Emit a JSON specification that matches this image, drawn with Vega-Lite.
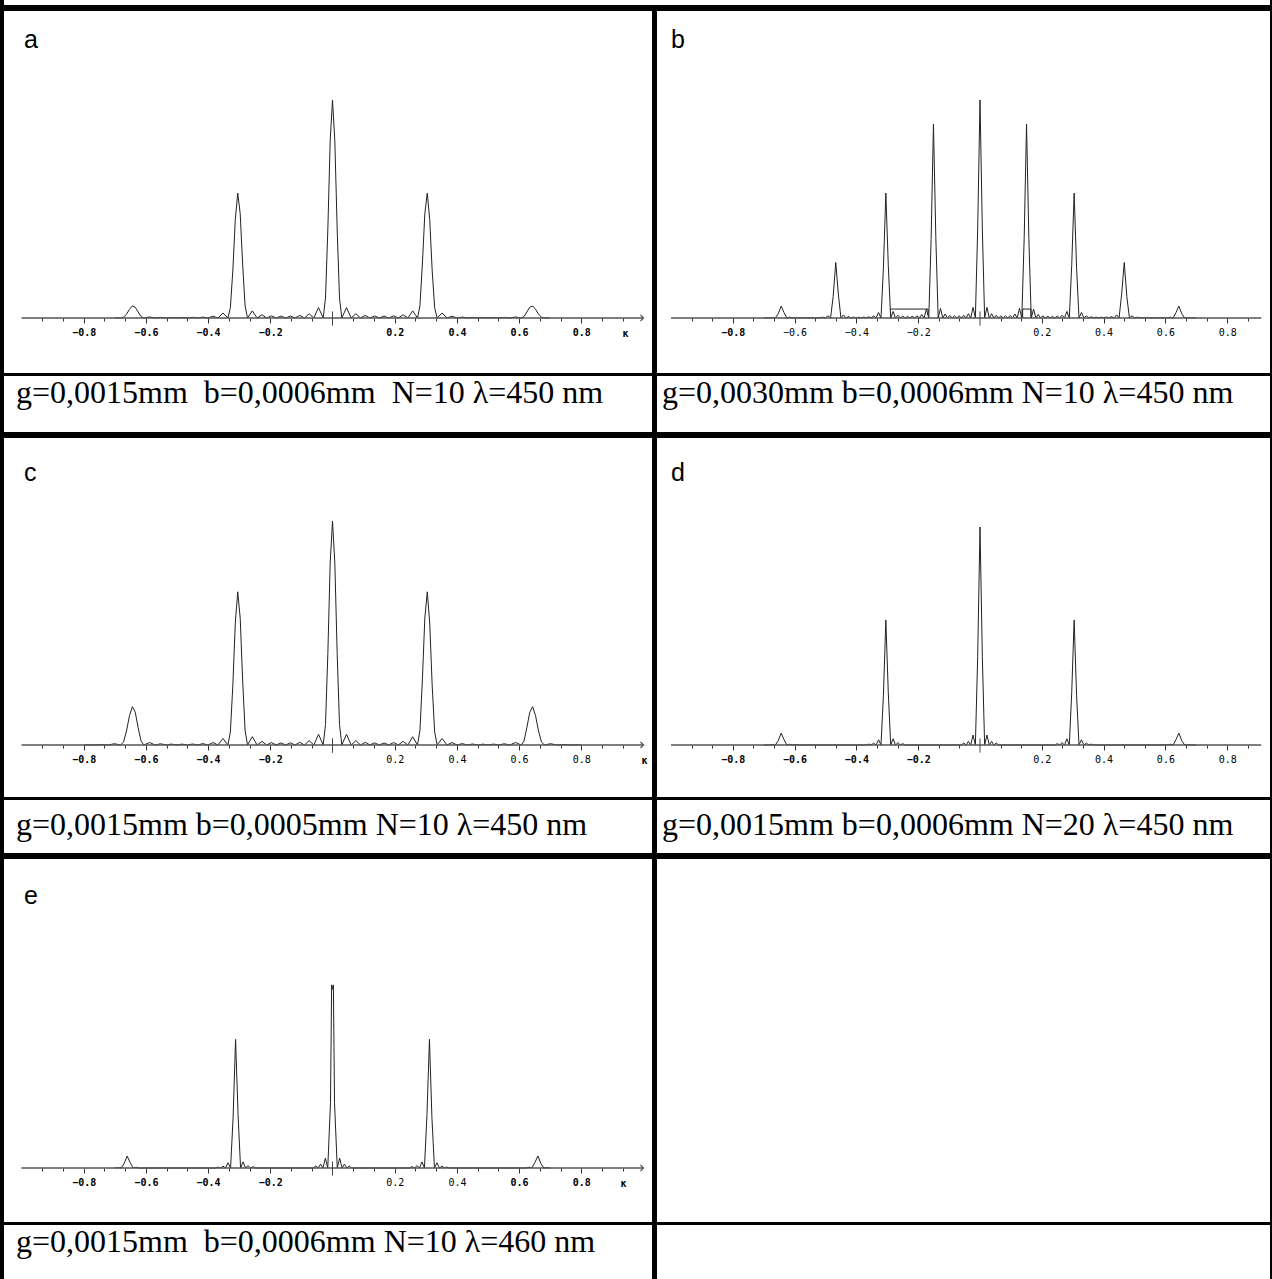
{
"$schema": "https://vega.github.io/schema/vega-lite/v6.json",
"background": "black",
"padding": {"left": 4, "top": 0, "right": 2, "bottom": 0},
"config": {"view": {"fill": "white", "stroke": null}, "concat": {"spacing": 0}},
"datasets": {
"a": [
{"angle":-0.7,"intensity":0.001},{"angle":-0.6816,"intensity":0},{"angle":-0.672,"intensity":0.0035},{"angle":-0.6624,"intensity":0.0177},{"angle":-0.6529,"intensity":0.0396},{"angle":-0.6435,"intensity":0.0547},{"angle":-0.6343,"intensity":0.0495},{"angle":-0.625,"intensity":0.0277},{"angle":-0.6158,"intensity":0.0069},{"angle":-0.6066,"intensity":0},{"angle":-0.5884,"intensity":0.0048},{"angle":-0.5704,"intensity":0},{"angle":-0.5528,"intensity":0.0027},{"angle":-0.5352,"intensity":0},{"angle":-0.5178,"intensity":0.0023},{"angle":-0.5007,"intensity":0},{"angle":-0.4836,"intensity":0.0023},{"angle":-0.4668,"intensity":0},{"angle":-0.45,"intensity":0.0029},{"angle":-0.4334,"intensity":0},{"angle":-0.417,"intensity":0.0043},{"angle":-0.4006,"intensity":0},{"angle":-0.3844,"intensity":0.0081},{"angle":-0.3683,"intensity":0},{"angle":-0.3522,"intensity":0.0229},{"angle":-0.3363,"intensity":0},{"angle":-0.3284,"intensity":0.0479},{"angle":-0.3204,"intensity":0.2202},{"angle":-0.3126,"intensity":0.4513},{"angle":-0.3047,"intensity":0.573},{"angle":-0.2968,"intensity":0.4788},{"angle":-0.289,"intensity":0.2479},{"angle":-0.2812,"intensity":0.0572},{"angle":-0.2734,"intensity":0},{"angle":-0.2578,"intensity":0.0326},{"angle":-0.2424,"intensity":0},{"angle":-0.2269,"intensity":0.0147},{"angle":-0.2116,"intensity":0},{"angle":-0.1963,"intensity":0.01},{"angle":-0.181,"intensity":0},{"angle":-0.1658,"intensity":0.0088},{"angle":-0.1506,"intensity":0},{"angle":-0.1354,"intensity":0.0092},{"angle":-0.1203,"intensity":0},{"angle":-0.1052,"intensity":0.0118},{"angle":-0.0901,"intensity":0},{"angle":-0.0751,"intensity":0.0194},{"angle":-0.06,"intensity":0},{"angle":-0.045,"intensity":0.0479},{"angle":-0.03,"intensity":0},{"angle":-0.0225,"intensity":0.0915},{"angle":-0.015,"intensity":0.408},{"angle":-0.0075,"intensity":0.812},
{"angle":0,"intensity":1},
{"angle":0.0075,"intensity":0.812},{"angle":0.015,"intensity":0.408},{"angle":0.0225,"intensity":0.0915},{"angle":0.03,"intensity":0},{"angle":0.045,"intensity":0.0479},{"angle":0.06,"intensity":0},{"angle":0.0751,"intensity":0.0194},{"angle":0.0901,"intensity":0},{"angle":0.1052,"intensity":0.0118},{"angle":0.1203,"intensity":0},{"angle":0.1354,"intensity":0.0092},{"angle":0.1506,"intensity":0},{"angle":0.1658,"intensity":0.0088},{"angle":0.181,"intensity":0},{"angle":0.1963,"intensity":0.01},{"angle":0.2116,"intensity":0},{"angle":0.2269,"intensity":0.0147},{"angle":0.2424,"intensity":0},{"angle":0.2578,"intensity":0.0326},{"angle":0.2734,"intensity":0},{"angle":0.2812,"intensity":0.0572},{"angle":0.289,"intensity":0.2479},{"angle":0.2968,"intensity":0.4788},{"angle":0.3047,"intensity":0.573},{"angle":0.3126,"intensity":0.4513},{"angle":0.3204,"intensity":0.2202},{"angle":0.3284,"intensity":0.0479},{"angle":0.3363,"intensity":0},{"angle":0.3522,"intensity":0.0229},{"angle":0.3683,"intensity":0},{"angle":0.3844,"intensity":0.0081},{"angle":0.4006,"intensity":0},{"angle":0.417,"intensity":0.0043},{"angle":0.4334,"intensity":0},{"angle":0.45,"intensity":0.0029},{"angle":0.4668,"intensity":0},{"angle":0.4836,"intensity":0.0023},{"angle":0.5007,"intensity":0},{"angle":0.5178,"intensity":0.0023},{"angle":0.5352,"intensity":0},{"angle":0.5528,"intensity":0.0027},{"angle":0.5704,"intensity":0},{"angle":0.5884,"intensity":0.0048},{"angle":0.6066,"intensity":0},{"angle":0.6158,"intensity":0.0069},{"angle":0.625,"intensity":0.0277},{"angle":0.6343,"intensity":0.0495},{"angle":0.6435,"intensity":0.0547},{"angle":0.6529,"intensity":0.0396},{"angle":0.6624,"intensity":0.0177},{"angle":0.672,"intensity":0.0035},{"angle":0.6816,"intensity":0},{"angle":0.7,"intensity":0.001}
],
"b": [
{"angle":-0.7,"intensity":0},{"angle":-0.6913,"intensity":0.0006},{"angle":-0.6816,"intensity":0},{"angle":-0.672,"intensity":0.0018},{"angle":-0.6624,"intensity":0},{"angle":-0.6529,"intensity":0.0199},{"angle":-0.6435,"intensity":0.0547},{"angle":-0.6343,"intensity":0.0249},{"angle":-0.625,"intensity":0},{"angle":-0.6158,"intensity":0.0036},{"angle":-0.6066,"intensity":0},{"angle":-0.5975,"intensity":0.0018},{"angle":-0.5884,"intensity":0},{"angle":-0.5793,"intensity":0.0013},{"angle":-0.5704,"intensity":0},{"angle":-0.5616,"intensity":0.0013},{"angle":-0.5528,"intensity":0},{"angle":-0.5439,"intensity":0.0015},{"angle":-0.5352,"intensity":0},{"angle":-0.5265,"intensity":0.0021},{"angle":-0.5178,"intensity":0},{"angle":-0.5092,"intensity":0.0038},{"angle":-0.5007,"intensity":0},{"angle":-0.4921,"intensity":0.0104},{"angle":-0.4836,"intensity":0},{"angle":-0.4752,"intensity":0.0985},{"angle":-0.4668,"intensity":0.2546},{"angle":-0.4584,"intensity":0.1097},{"angle":-0.45,"intensity":0},{"angle":-0.4417,"intensity":0.0144},{"angle":-0.4334,"intensity":0},{"angle":-0.4252,"intensity":0.0065},{"angle":-0.417,"intensity":0},{"angle":-0.4088,"intensity":0.0045},{"angle":-0.4006,"intensity":0},{"angle":-0.3925,"intensity":0.004},{"angle":-0.3844,"intensity":0},{"angle":-0.3763,"intensity":0.0043},{"angle":-0.3683,"intensity":0},{"angle":-0.3602,"intensity":0.0057},{"angle":-0.3522,"intensity":0},{"angle":-0.3443,"intensity":0.0098},{"angle":-0.3363,"intensity":0},{"angle":-0.3284,"intensity":0.0253},{"angle":-0.3204,"intensity":0},{"angle":-0.3126,"intensity":0.2271},{"angle":-0.3047,"intensity":0.573},{"angle":-0.2968,"intensity":0.241},{"angle":-0.289,"intensity":0},{"angle":-0.2812,"intensity":0.0302},{"angle":-0.2734,"intensity":0},{"angle":-0.2656,"intensity":0.0131},{"angle":-0.2578,"intensity":0},{"angle":-0.2501,"intensity":0.0087},{"angle":-0.2424,"intensity":0},{"angle":-0.2346,"intensity":0.0074},{"angle":-0.2269,"intensity":0},{"angle":-0.2193,"intensity":0.0077},{"angle":-0.2116,"intensity":0},{"angle":-0.2039,"intensity":0.0099},{"angle":-0.1963,"intensity":0},{"angle":-0.1886,"intensity":0.0162},{"angle":-0.181,"intensity":0},{"angle":-0.1734,"intensity":0.0406},{"angle":-0.1658,"intensity":0},{"angle":-0.1582,"intensity":0.36},{"angle":-0.1506,"intensity":0.89},{"angle":-0.143,"intensity":0.37},{"angle":-0.1354,"intensity":0},{"angle":-0.1278,"intensity":0.0441},{"angle":-0.1203,"intensity":0},{"angle":-0.1127,"intensity":0.0186},{"angle":-0.1052,"intensity":0},{"angle":-0.0977,"intensity":0.0119},{"angle":-0.0901,"intensity":0},{"angle":-0.0826,"intensity":0.0099},{"angle":-0.0751,"intensity":0},{"angle":-0.0676,"intensity":0.01},{"angle":-0.06,"intensity":0},{"angle":-0.0525,"intensity":0.0124},{"angle":-0.045,"intensity":0},{"angle":-0.0375,"intensity":0.0198},{"angle":-0.03,"intensity":0},{"angle":-0.0225,"intensity":0.0484},{"angle":-0.015,"intensity":0},{"angle":-0.0075,"intensity":0.4085},
{"angle":0,"intensity":1},
{"angle":0.0075,"intensity":0.4085},{"angle":0.015,"intensity":0},{"angle":0.0225,"intensity":0.0484},{"angle":0.03,"intensity":0},{"angle":0.0375,"intensity":0.0198},{"angle":0.045,"intensity":0},{"angle":0.0525,"intensity":0.0124},{"angle":0.06,"intensity":0},{"angle":0.0676,"intensity":0.01},{"angle":0.0751,"intensity":0},{"angle":0.0826,"intensity":0.0099},{"angle":0.0901,"intensity":0},{"angle":0.0977,"intensity":0.0119},{"angle":0.1052,"intensity":0},{"angle":0.1127,"intensity":0.0186},{"angle":0.1203,"intensity":0},{"angle":0.1278,"intensity":0.0441},{"angle":0.1354,"intensity":0},{"angle":0.143,"intensity":0.37},{"angle":0.1506,"intensity":0.89},{"angle":0.1582,"intensity":0.36},{"angle":0.1658,"intensity":0},{"angle":0.1734,"intensity":0.0406},{"angle":0.181,"intensity":0},{"angle":0.1886,"intensity":0.0162},{"angle":0.1963,"intensity":0},{"angle":0.2039,"intensity":0.0099},{"angle":0.2116,"intensity":0},{"angle":0.2193,"intensity":0.0077},{"angle":0.2269,"intensity":0},{"angle":0.2346,"intensity":0.0074},{"angle":0.2424,"intensity":0},{"angle":0.2501,"intensity":0.0087},{"angle":0.2578,"intensity":0},{"angle":0.2656,"intensity":0.0131},{"angle":0.2734,"intensity":0},{"angle":0.2812,"intensity":0.0302},{"angle":0.289,"intensity":0},{"angle":0.2968,"intensity":0.241},{"angle":0.3047,"intensity":0.573},{"angle":0.3126,"intensity":0.2271},{"angle":0.3204,"intensity":0},{"angle":0.3284,"intensity":0.0253},{"angle":0.3363,"intensity":0},{"angle":0.3443,"intensity":0.0098},{"angle":0.3522,"intensity":0},{"angle":0.3602,"intensity":0.0057},{"angle":0.3683,"intensity":0},{"angle":0.3763,"intensity":0.0043},{"angle":0.3844,"intensity":0},{"angle":0.3925,"intensity":0.004},{"angle":0.4006,"intensity":0},{"angle":0.4088,"intensity":0.0045},{"angle":0.417,"intensity":0},{"angle":0.4252,"intensity":0.0065},{"angle":0.4334,"intensity":0},{"angle":0.4417,"intensity":0.0144},{"angle":0.45,"intensity":0},{"angle":0.4584,"intensity":0.1097},{"angle":0.4668,"intensity":0.2546},{"angle":0.4752,"intensity":0.0985},{"angle":0.4836,"intensity":0},{"angle":0.4921,"intensity":0.0104},{"angle":0.5007,"intensity":0},{"angle":0.5092,"intensity":0.0038},{"angle":0.5178,"intensity":0},{"angle":0.5265,"intensity":0.0021},{"angle":0.5352,"intensity":0},{"angle":0.5439,"intensity":0.0015},{"angle":0.5528,"intensity":0},{"angle":0.5616,"intensity":0.0013},{"angle":0.5704,"intensity":0},{"angle":0.5793,"intensity":0.0013},{"angle":0.5884,"intensity":0},{"angle":0.5975,"intensity":0.0018},{"angle":0.6066,"intensity":0},{"angle":0.6158,"intensity":0.0036},{"angle":0.625,"intensity":0},{"angle":0.6343,"intensity":0.0249},{"angle":0.6435,"intensity":0.0547},{"angle":0.6529,"intensity":0.0199},{"angle":0.6624,"intensity":0},{"angle":0.672,"intensity":0.0018},{"angle":0.6816,"intensity":0},{"angle":0.6913,"intensity":0.0006},{"angle":0.7,"intensity":0}
],
"b_artifacts": [
{"segment":1,"step":1,"angle":-0.2915,"intensity":0.041},{"segment":1,"step":2,"angle":-0.168,"intensity":0.041},{"segment":1,"step":3,"angle":-0.168,"intensity":0.015},
{"segment":2,"step":1,"angle":0.138,"intensity":0},{"segment":2,"step":2,"angle":0.138,"intensity":0.041},{"segment":2,"step":3,"angle":0.165,"intensity":0.041},{"segment":2,"step":4,"angle":0.165,"intensity":0}
],
"c": [
{"angle":-0.8,"intensity":0},{"angle":-0.7824,"intensity":0.0008},{"angle":-0.7615,"intensity":0},{"angle":-0.741,"intensity":0.0018},{"angle":-0.7208,"intensity":0},{"angle":-0.7011,"intensity":0.0058},{"angle":-0.6816,"intensity":0},{"angle":-0.672,"intensity":0.0132},{"angle":-0.6624,"intensity":0.0624},{"angle":-0.6529,"intensity":0.1313},{"angle":-0.6435,"intensity":0.171},{"angle":-0.6343,"intensity":0.1466},{"angle":-0.625,"intensity":0.0778},{"angle":-0.6158,"intensity":0.0184},{"angle":-0.6066,"intensity":0},{"angle":-0.5884,"intensity":0.0113},{"angle":-0.5704,"intensity":0},{"angle":-0.5528,"intensity":0.0056},{"angle":-0.5352,"intensity":0},{"angle":-0.5178,"intensity":0.0041},{"angle":-0.5007,"intensity":0},{"angle":-0.4836,"intensity":0.0039},{"angle":-0.4668,"intensity":0},{"angle":-0.45,"intensity":0.0045},{"angle":-0.4334,"intensity":0},{"angle":-0.417,"intensity":0.0062},{"angle":-0.4006,"intensity":0},{"angle":-0.3844,"intensity":0.0109},{"angle":-0.3683,"intensity":0},{"angle":-0.3522,"intensity":0.0291},{"angle":-0.3363,"intensity":0},{"angle":-0.3284,"intensity":0.059},{"angle":-0.3204,"intensity":0.2683},{"angle":-0.3126,"intensity":0.5443},{"angle":-0.3047,"intensity":0.6839},{"angle":-0.2968,"intensity":0.5663},{"angle":-0.289,"intensity":0.2904},{"angle":-0.2812,"intensity":0.0664},{"angle":-0.2734,"intensity":0},{"angle":-0.2578,"intensity":0.037},{"angle":-0.2424,"intensity":0},{"angle":-0.2269,"intensity":0.0162},{"angle":-0.2116,"intensity":0},{"angle":-0.1963,"intensity":0.0108},{"angle":-0.181,"intensity":0},{"angle":-0.1658,"intensity":0.0092},{"angle":-0.1506,"intensity":0},{"angle":-0.1354,"intensity":0.0096},{"angle":-0.1203,"intensity":0},{"angle":-0.1052,"intensity":0.012},{"angle":-0.0901,"intensity":0},{"angle":-0.0751,"intensity":0.0195},{"angle":-0.06,"intensity":0},{"angle":-0.045,"intensity":0.0481},{"angle":-0.03,"intensity":0},{"angle":-0.0225,"intensity":0.0916},{"angle":-0.015,"intensity":0.408},{"angle":-0.0075,"intensity":0.812},
{"angle":0,"intensity":1},
{"angle":0.0075,"intensity":0.812},{"angle":0.015,"intensity":0.408},{"angle":0.0225,"intensity":0.0916},{"angle":0.03,"intensity":0},{"angle":0.045,"intensity":0.0481},{"angle":0.06,"intensity":0},{"angle":0.0751,"intensity":0.0195},{"angle":0.0901,"intensity":0},{"angle":0.1052,"intensity":0.012},{"angle":0.1203,"intensity":0},{"angle":0.1354,"intensity":0.0096},{"angle":0.1506,"intensity":0},{"angle":0.1658,"intensity":0.0092},{"angle":0.181,"intensity":0},{"angle":0.1963,"intensity":0.0108},{"angle":0.2116,"intensity":0},{"angle":0.2269,"intensity":0.0162},{"angle":0.2424,"intensity":0},{"angle":0.2578,"intensity":0.037},{"angle":0.2734,"intensity":0},{"angle":0.2812,"intensity":0.0664},{"angle":0.289,"intensity":0.2904},{"angle":0.2968,"intensity":0.5663},{"angle":0.3047,"intensity":0.6839},{"angle":0.3126,"intensity":0.5443},{"angle":0.3204,"intensity":0.2683},{"angle":0.3284,"intensity":0.059},{"angle":0.3363,"intensity":0},{"angle":0.3522,"intensity":0.0291},{"angle":0.3683,"intensity":0},{"angle":0.3844,"intensity":0.0109},{"angle":0.4006,"intensity":0},{"angle":0.417,"intensity":0.0062},{"angle":0.4334,"intensity":0},{"angle":0.45,"intensity":0.0045},{"angle":0.4668,"intensity":0},{"angle":0.4836,"intensity":0.0039},{"angle":0.5007,"intensity":0},{"angle":0.5178,"intensity":0.0041},{"angle":0.5352,"intensity":0},{"angle":0.5528,"intensity":0.0056},{"angle":0.5704,"intensity":0},{"angle":0.5884,"intensity":0.0113},{"angle":0.6066,"intensity":0},{"angle":0.6158,"intensity":0.0184},{"angle":0.625,"intensity":0.0778},{"angle":0.6343,"intensity":0.1466},{"angle":0.6435,"intensity":0.171},{"angle":0.6529,"intensity":0.1313},{"angle":0.6624,"intensity":0.0624},{"angle":0.672,"intensity":0.0132},{"angle":0.6816,"intensity":0},{"angle":0.7011,"intensity":0.0058},{"angle":0.7208,"intensity":0},{"angle":0.741,"intensity":0.0018},{"angle":0.7615,"intensity":0},{"angle":0.7824,"intensity":0.0008},{"angle":0.8,"intensity":0}
],
"d": [
{"angle":-0.7,"intensity":0},{"angle":-0.6816,"intensity":0},{"angle":-0.672,"intensity":0.0017},{"angle":-0.6624,"intensity":0},{"angle":-0.6529,"intensity":0.0198},{"angle":-0.6435,"intensity":0.0547},{"angle":-0.6343,"intensity":0.0248},{"angle":-0.625,"intensity":0},{"angle":-0.6158,"intensity":0.0034},{"angle":-0.6066,"intensity":0},{"angle":-0.5975,"intensity":0.0015},{"angle":-0.5884,"intensity":0},{"angle":-0.3683,"intensity":0},{"angle":-0.3602,"intensity":0.0042},{"angle":-0.3522,"intensity":0},{"angle":-0.3443,"intensity":0.0083},{"angle":-0.3363,"intensity":0},{"angle":-0.3284,"intensity":0.024},{"angle":-0.3204,"intensity":0},{"angle":-0.3126,"intensity":0.2257},{"angle":-0.3047,"intensity":0.573},{"angle":-0.2968,"intensity":0.2395},{"angle":-0.289,"intensity":0},{"angle":-0.2812,"intensity":0.0286},{"angle":-0.2734,"intensity":0},{"angle":-0.2656,"intensity":0.0112},{"angle":-0.2578,"intensity":0},{"angle":-0.2501,"intensity":0.0063},{"angle":-0.2424,"intensity":0},{"angle":-0.06,"intensity":0},{"angle":-0.0525,"intensity":0.009},{"angle":-0.045,"intensity":0},{"angle":-0.0375,"intensity":0.017},{"angle":-0.03,"intensity":0},{"angle":-0.0225,"intensity":0.0458},{"angle":-0.015,"intensity":0},{"angle":-0.0075,"intensity":0.406},
{"angle":0,"intensity":1},
{"angle":0.0075,"intensity":0.406},{"angle":0.015,"intensity":0},{"angle":0.0225,"intensity":0.0458},{"angle":0.03,"intensity":0},{"angle":0.0375,"intensity":0.017},{"angle":0.045,"intensity":0},{"angle":0.0525,"intensity":0.009},{"angle":0.06,"intensity":0},{"angle":0.2424,"intensity":0},{"angle":0.2501,"intensity":0.0063},{"angle":0.2578,"intensity":0},{"angle":0.2656,"intensity":0.0112},{"angle":0.2734,"intensity":0},{"angle":0.2812,"intensity":0.0286},{"angle":0.289,"intensity":0},{"angle":0.2968,"intensity":0.2395},{"angle":0.3047,"intensity":0.573},{"angle":0.3126,"intensity":0.2257},{"angle":0.3204,"intensity":0},{"angle":0.3284,"intensity":0.024},{"angle":0.3363,"intensity":0},{"angle":0.3443,"intensity":0.0083},{"angle":0.3522,"intensity":0},{"angle":0.3602,"intensity":0.0042},{"angle":0.3683,"intensity":0},{"angle":0.5884,"intensity":0},{"angle":0.5975,"intensity":0.0015},{"angle":0.6066,"intensity":0},{"angle":0.6158,"intensity":0.0034},{"angle":0.625,"intensity":0},{"angle":0.6343,"intensity":0.0248},{"angle":0.6435,"intensity":0.0547},{"angle":0.6529,"intensity":0.0198},{"angle":0.6624,"intensity":0},{"angle":0.672,"intensity":0.0017},{"angle":0.6816,"intensity":0},{"angle":0.7,"intensity":0}
],
"e": [
{"angle":-0.7,"intensity":0},{"angle":-0.6895,"intensity":0.0017},{"angle":-0.6798,"intensity":0},{"angle":-0.6701,"intensity":0.02},{"angle":-0.6604,"intensity":0.055},{"angle":-0.6507,"intensity":0.025},{"angle":-0.641,"intensity":0},{"angle":-0.6313,"intensity":0.0034},{"angle":-0.6216,"intensity":0},{"angle":-0.376,"intensity":0},{"angle":-0.368,"intensity":0.0042},{"angle":-0.3599,"intensity":0},{"angle":-0.3519,"intensity":0.0083},{"angle":-0.3439,"intensity":0},{"angle":-0.3358,"intensity":0.024},{"angle":-0.3278,"intensity":0},{"angle":-0.3197,"intensity":0.23},{"angle":-0.3117,"intensity":0.59},{"angle":-0.3037,"intensity":0.245},{"angle":-0.2956,"intensity":0},{"angle":-0.2876,"intensity":0.028},{"angle":-0.2795,"intensity":0},{"angle":-0.2715,"intensity":0.011},{"angle":-0.2635,"intensity":0},{"angle":-0.2554,"intensity":0.0063},{"angle":-0.2474,"intensity":0},{"angle":-0.0613,"intensity":0},{"angle":-0.0537,"intensity":0.009},{"angle":-0.046,"intensity":0},{"angle":-0.0383,"intensity":0.018},{"angle":-0.0307,"intensity":0},{"angle":-0.023,"intensity":0.045},{"angle":-0.0153,"intensity":0},{"angle":-0.0065,"intensity":0.3},{"angle":-0.0028,"intensity":0.84},
{"angle":0,"intensity":0.82},
{"angle":0.0028,"intensity":0.84},{"angle":0.0065,"intensity":0.3},{"angle":0.0153,"intensity":0},{"angle":0.023,"intensity":0.045},{"angle":0.0307,"intensity":0},{"angle":0.0383,"intensity":0.018},{"angle":0.046,"intensity":0},{"angle":0.0537,"intensity":0.009},{"angle":0.0613,"intensity":0},{"angle":0.2474,"intensity":0},{"angle":0.2554,"intensity":0.0063},{"angle":0.2635,"intensity":0},{"angle":0.2715,"intensity":0.011},{"angle":0.2795,"intensity":0},{"angle":0.2876,"intensity":0.028},{"angle":0.2956,"intensity":0},{"angle":0.3037,"intensity":0.245},{"angle":0.3117,"intensity":0.59},{"angle":0.3197,"intensity":0.23},{"angle":0.3278,"intensity":0},{"angle":0.3358,"intensity":0.024},{"angle":0.3439,"intensity":0},{"angle":0.3519,"intensity":0.0083},{"angle":0.3599,"intensity":0},{"angle":0.368,"intensity":0.0042},{"angle":0.376,"intensity":0},{"angle":0.6216,"intensity":0},{"angle":0.6313,"intensity":0.0034},{"angle":0.641,"intensity":0},{"angle":0.6507,"intensity":0.025},{"angle":0.6604,"intensity":0.055},{"angle":0.6701,"intensity":0.02},{"angle":0.6798,"intensity":0},{"angle":0.6895,"intensity":0.0017},{"angle":0.7,"intensity":0}
]
},
"spacing": 6,
"vconcat": [
{"width": 1266, "height": 5, "data": {"values": [{}]}, "mark": {"type": "point", "opacity": 0, "size": 0},
 "encoding": {"x": {"datum": 0.5, "type": "quantitative", "scale": {"domain": [0, 1]}, "axis": null}, "y": {"datum": 0.5, "type": "quantitative", "scale": {"domain": [0, 1]}, "axis": null}}},
{"spacing": 5, "hconcat": [
 {"spacing": 3, "vconcat": [
  {"width": 648, "height": 362, "data": {"values": [{}]},
   "resolve": {"axis": {"x": "independent"}},
   "layer": [
    {"data": {"name": "a"}, "mark": {"type": "line", "color": "#222", "strokeWidth": 1},
     "encoding": {
      "x": {"field": "angle", "type": "quantitative", "scale": {"domain": [-1.0563, 1.0273], "nice": false, "zero": false},
        "axis": {"orient": "bottom", "values": [-0.9333,-0.8667,-0.7333,-0.6667,-0.5333,-0.4667,-0.3333,-0.2667,-0.1333,-0.0667,0.0667,0.1333,0.2667,0.3333,0.4667,0.5333,0.6667,0.7333,0.8667,0.9333],
          "domain": false, "grid": false, "offset": -55, "tickSize": 3, "tickColor": "#333", "labels": false, "title": null}},
      "y": {"field": "intensity", "type": "quantitative", "scale": {"domain": [-0.2523, 1.4083], "nice": false, "zero": false}, "axis": null}}},
    {"mark": {"type": "rule", "color": "#555", "strokeWidth": 1.5},
     "encoding": {"x": {"datum": -1, "type": "quantitative",
        "axis": {"orient": "bottom", "values": [-0.8,-0.6,-0.4,-0.2,0.2,0.4,0.6,0.8], "domain": false, "grid": false, "offset": -55, "tickSize": 5, "tickColor": "#333",
          "format": ".1f", "labelFont": "DejaVu Sans Mono", "labelFontSize": 10, "labelFontWeight": "bold", "labelColor": "black", "labelPadding": 4, "labelOverlap": false, "labelFlush": false,
          "title": "κ", "titleX": 621, "titleY": 15, "titleFont": "DejaVu Sans Mono", "titleFontSize": 10, "titleFontWeight": "bold", "titleBaseline": "middle", "titleAlign": "center", "titleColor": "black"}},
      "x2": {"datum": 1}, "y": {"datum": 0, "type": "quantitative", "axis": null}}},
    {"mark": {"type": "rule", "color": "#444", "strokeWidth": 1}, "encoding": {"x": {"datum": 0, "type": "quantitative", "axis": null}, "y": {"datum": -0.035, "type": "quantitative", "axis": null}, "y2": {"datum": 0.03}}},
    {"mark": {"type": "point", "shape": "M-1,-1L0,0L-1,1", "filled": false, "color": "#555", "size": 36, "strokeWidth": 1.2, "opacity": 1}, "encoding": {"x": {"datum": 1, "type": "quantitative", "axis": null}, "y": {"datum": 0, "type": "quantitative", "axis": null}}},
    {"mark": {"type": "text", "text": "a", "font": "Liberation Sans", "fontSize": 25, "align": "left", "baseline": "alphabetic", "color": "black"}, "encoding": {"x": {"datum": -0.992, "type": "quantitative", "axis": null}, "y": {"datum": 1.2385, "type": "quantitative", "axis": null}}}
   ]},
  {"width": 648, "height": 56, "data": {"values": [{"caption": "g=0,0015mm\u00a0 b=0,0006mm\u00a0 N=10 λ=450 nm"}]},
   "mark": {"type": "text", "font": "Liberation Serif", "fontSize": 32, "align": "left", "baseline": "middle", "color": "black"},
   "encoding": {"text": {"field": "caption"},
     "x": {"datum": 0.0185, "type": "quantitative", "scale": {"domain": [0, 1], "nice": false, "zero": false}, "axis": null},
     "y": {"datum": 0.69, "type": "quantitative", "scale": {"domain": [0, 1], "nice": false, "zero": false}, "axis": null}}}
 ]},
 {"spacing": 3, "vconcat": [
  {"width": 613, "height": 362, "data": {"values": [{}]},
   "resolve": {"axis": {"x": "independent"}},
   "layer": [
    {"data": {"name": "b"}, "mark": {"type": "line", "color": "#222", "strokeWidth": 1},
     "encoding": {
      "x": {"field": "angle", "type": "quantitative", "scale": {"domain": [-1.0453, 0.9385], "nice": false, "zero": false},
        "axis": {"orient": "bottom", "values": [-0.9333,-0.8667,-0.7333,-0.6667,-0.5333,-0.4667,-0.3333,-0.2667,-0.1333,-0.0667,0.0667,0.1333,0.2667,0.3333,0.4667,0.5333,0.6667,0.7333,0.8667],
          "domain": false, "grid": false, "offset": -55, "tickSize": 3, "tickColor": "#333", "labels": false, "title": null}},
      "y": {"field": "intensity", "type": "quantitative", "scale": {"domain": [-0.2523, 1.4083], "nice": false, "zero": false}, "axis": null}}},
    {"data": {"name": "b_artifacts"}, "mark": {"type": "line", "color": "#222", "strokeWidth": 1},
     "encoding": {"x": {"field": "angle", "type": "quantitative", "axis": null}, "y": {"field": "intensity", "type": "quantitative", "axis": null}, "detail": {"field": "segment"}, "order": {"field": "step"}}},
    {"mark": {"type": "rule", "color": "#555", "strokeWidth": 1.5},
     "encoding": {"x": {"datum": -1, "type": "quantitative",
        "axis": {"orient": "bottom", "values": [-0.8,-0.6,-0.4,-0.2,0.2,0.4,0.6,0.8], "domain": false, "grid": false, "offset": -55, "tickSize": 5, "tickColor": "#333",
          "format": ".1f", "labelFont": "DejaVu Sans Mono", "labelFontSize": 10, "labelFontWeight": {"condition": {"test": "datum.value < -0.7", "value": "bold"}, "value": "normal"}, "labelColor": "black", "labelPadding": 4, "labelOverlap": false, "labelFlush": false, "title": null}},
      "x2": {"datum": 0.91}, "y": {"datum": 0, "type": "quantitative", "axis": null}}},
    {"mark": {"type": "rule", "color": "#444", "strokeWidth": 1}, "encoding": {"x": {"datum": 0, "type": "quantitative", "axis": null}, "y": {"datum": -0.035, "type": "quantitative", "axis": null}, "y2": {"datum": 0.03}}},
    {"mark": {"type": "text", "text": "b", "font": "Liberation Sans", "fontSize": 25, "align": "left", "baseline": "alphabetic", "color": "black"}, "encoding": {"x": {"datum": -1.0, "type": "quantitative", "axis": null}, "y": {"datum": 1.2385, "type": "quantitative", "axis": null}}}
   ]},
  {"width": 613, "height": 56, "data": {"values": [{"caption": "g=0,0030mm b=0,0006mm N=10 λ=450 nm"}]},
   "mark": {"type": "text", "font": "Liberation Serif", "fontSize": 32, "align": "left", "baseline": "middle", "color": "black"},
   "encoding": {"text": {"field": "caption"},
     "x": {"datum": 0.0082, "type": "quantitative", "scale": {"domain": [0, 1], "nice": false, "zero": false}, "axis": null},
     "y": {"datum": 0.69, "type": "quantitative", "scale": {"domain": [0, 1], "nice": false, "zero": false}, "axis": null}}}
 ]}
]},
{"spacing": 5, "hconcat": [
 {"spacing": 3, "vconcat": [
  {"width": 648, "height": 359, "data": {"values": [{}]},
   "resolve": {"axis": {"x": "independent"}},
   "layer": [
    {"data": {"name": "c"}, "mark": {"type": "line", "color": "#222", "strokeWidth": 1},
     "encoding": {
      "x": {"field": "angle", "type": "quantitative", "scale": {"domain": [-1.0563, 1.0273], "nice": false, "zero": false},
        "axis": {"orient": "bottom", "values": [-0.9333,-0.8667,-0.7333,-0.6667,-0.5333,-0.4667,-0.3333,-0.2667,-0.1333,-0.0667,0.0667,0.1333,0.2667,0.3333,0.4667,0.5333,0.6667,0.7333,0.8667,0.9333],
          "domain": false, "grid": false, "offset": -52, "tickSize": 3, "tickColor": "#333", "labels": false, "title": null}},
      "y": {"field": "intensity", "type": "quantitative", "scale": {"domain": [-0.2321, 1.3705], "nice": false, "zero": false}, "axis": null}}},
    {"mark": {"type": "rule", "color": "#555", "strokeWidth": 1.5},
     "encoding": {"x": {"datum": -1, "type": "quantitative",
        "axis": {"orient": "bottom", "values": [-0.8,-0.6,-0.4,-0.2,0.2,0.4,0.6,0.8], "domain": false, "grid": false, "offset": -52, "tickSize": 5, "tickColor": "#333",
          "format": ".1f", "labelFont": "DejaVu Sans Mono", "labelFontSize": 10, "labelFontWeight": {"condition": {"test": "datum.value < 0", "value": "bold"}, "value": "normal"}, "labelColor": "black", "labelPadding": 4, "labelOverlap": false, "labelFlush": false,
          "title": "κ", "titleX": 640, "titleY": 15, "titleFont": "DejaVu Sans Mono", "titleFontSize": 10, "titleFontWeight": "bold", "titleBaseline": "middle", "titleAlign": "center", "titleColor": "black"}},
      "x2": {"datum": 1}, "y": {"datum": 0, "type": "quantitative", "axis": null}}},
    {"mark": {"type": "rule", "color": "#444", "strokeWidth": 1}, "encoding": {"x": {"datum": 0, "type": "quantitative", "axis": null}, "y": {"datum": -0.035, "type": "quantitative", "axis": null}, "y2": {"datum": 0.03}}},
    {"mark": {"type": "point", "shape": "M-1,-1L0,0L-1,1", "filled": false, "color": "#555", "size": 36, "strokeWidth": 1.2, "opacity": 1}, "encoding": {"x": {"datum": 1, "type": "quantitative", "axis": null}, "y": {"datum": 0, "type": "quantitative", "axis": null}}},
    {"mark": {"type": "text", "text": "c", "font": "Liberation Sans", "fontSize": 25, "align": "left", "baseline": "alphabetic", "color": "black"}, "encoding": {"x": {"datum": -0.992, "type": "quantitative", "axis": null}, "y": {"datum": 1.1786, "type": "quantitative", "axis": null}}}
   ]},
  {"width": 648, "height": 53, "data": {"values": [{"caption": "g=0,0015mm b=0,0005mm N=10 λ=450 nm"}]},
   "mark": {"type": "text", "font": "Liberation Serif", "fontSize": 32, "align": "left", "baseline": "middle", "color": "black"},
   "encoding": {"text": {"field": "caption"},
     "x": {"datum": 0.0185, "type": "quantitative", "scale": {"domain": [0, 1], "nice": false, "zero": false}, "axis": null},
     "y": {"datum": 0.53, "type": "quantitative", "scale": {"domain": [0, 1], "nice": false, "zero": false}, "axis": null}}}
 ]},
 {"spacing": 3, "vconcat": [
  {"width": 613, "height": 359, "data": {"values": [{}]},
   "resolve": {"axis": {"x": "independent"}},
   "layer": [
    {"data": {"name": "d"}, "mark": {"type": "line", "color": "#222", "strokeWidth": 1},
     "encoding": {
      "x": {"field": "angle", "type": "quantitative", "scale": {"domain": [-1.0453, 0.9385], "nice": false, "zero": false},
        "axis": {"orient": "bottom", "values": [-0.9333,-0.8667,-0.7333,-0.6667,-0.5333,-0.4667,-0.3333,-0.2667,-0.1333,-0.0667,0.0667,0.1333,0.2667,0.3333,0.4667,0.5333,0.6667,0.7333,0.8667],
          "domain": false, "grid": false, "offset": -52, "tickSize": 3, "tickColor": "#333", "labels": false, "title": null}},
      "y": {"field": "intensity", "type": "quantitative", "scale": {"domain": [-0.2385, 1.4083], "nice": false, "zero": false}, "axis": null}}},
    {"mark": {"type": "rule", "color": "#555", "strokeWidth": 1.5},
     "encoding": {"x": {"datum": -1, "type": "quantitative",
        "axis": {"orient": "bottom", "values": [-0.8,-0.6,-0.4,-0.2,0.2,0.4,0.6,0.8], "domain": false, "grid": false, "offset": -52, "tickSize": 5, "tickColor": "#333",
          "format": ".1f", "labelFont": "DejaVu Sans Mono", "labelFontSize": 10, "labelFontWeight": {"condition": {"test": "datum.value < 0", "value": "bold"}, "value": "normal"}, "labelColor": "black", "labelPadding": 4, "labelOverlap": false, "labelFlush": false, "title": null}},
      "x2": {"datum": 0.91}, "y": {"datum": 0, "type": "quantitative", "axis": null}}},
    {"mark": {"type": "rule", "color": "#444", "strokeWidth": 1}, "encoding": {"x": {"datum": 0, "type": "quantitative", "axis": null}, "y": {"datum": -0.035, "type": "quantitative", "axis": null}, "y2": {"datum": 0.03}}},
    {"mark": {"type": "text", "text": "d", "font": "Liberation Sans", "fontSize": 25, "align": "left", "baseline": "alphabetic", "color": "black"}, "encoding": {"x": {"datum": -1.0, "type": "quantitative", "axis": null}, "y": {"datum": 1.211, "type": "quantitative", "axis": null}}}
   ]},
  {"width": 613, "height": 53, "data": {"values": [{"caption": "g=0,0015mm b=0,0006mm N=20 λ=450 nm"}]},
   "mark": {"type": "text", "font": "Liberation Serif", "fontSize": 32, "align": "left", "baseline": "middle", "color": "black"},
   "encoding": {"text": {"field": "caption"},
     "x": {"datum": 0.0082, "type": "quantitative", "scale": {"domain": [0, 1], "nice": false, "zero": false}, "axis": null},
     "y": {"datum": 0.53, "type": "quantitative", "scale": {"domain": [0, 1], "nice": false, "zero": false}, "axis": null}}}
 ]}
]},
{"spacing": 5, "hconcat": [
 {"spacing": 3, "vconcat": [
  {"width": 648, "height": 363, "data": {"values": [{}]},
   "resolve": {"axis": {"x": "independent"}},
   "layer": [
    {"data": {"name": "e"}, "mark": {"type": "line", "color": "#222", "strokeWidth": 1},
     "encoding": {
      "x": {"field": "angle", "type": "quantitative", "scale": {"domain": [-1.0563, 1.0273], "nice": false, "zero": false},
        "axis": {"orient": "bottom", "values": [-0.9333,-0.8667,-0.7333,-0.6667,-0.5333,-0.4667,-0.3333,-0.2667,-0.1333,-0.0667,0.0667,0.1333,0.2667,0.3333,0.4667,0.5333,0.6667,0.7333,0.8667,0.9333],
          "domain": false, "grid": false, "offset": -54, "tickSize": 3, "tickColor": "#333", "labels": false, "title": null}},
      "y": {"field": "intensity", "type": "quantitative", "scale": {"domain": [-0.2477, 1.4174], "nice": false, "zero": false}, "axis": null}}},
    {"mark": {"type": "rule", "color": "#555", "strokeWidth": 1.5},
     "encoding": {"x": {"datum": -1, "type": "quantitative",
        "axis": {"orient": "bottom", "values": [-0.8,-0.6,-0.4,-0.2,0.2,0.4,0.6,0.8], "domain": false, "grid": false, "offset": -54, "tickSize": 5, "tickColor": "#333",
          "format": ".1f", "labelFont": "DejaVu Sans Mono", "labelFontSize": 10, "labelFontWeight": {"condition": {"test": "datum.value < 0 || datum.value > 0.5", "value": "bold"}, "value": "normal"}, "labelColor": "black", "labelPadding": 4, "labelOverlap": false, "labelFlush": false,
          "title": "κ", "titleX": 619, "titleY": 15, "titleFont": "DejaVu Sans Mono", "titleFontSize": 10, "titleFontWeight": "bold", "titleBaseline": "middle", "titleAlign": "center", "titleColor": "black"}},
      "x2": {"datum": 1}, "y": {"datum": 0, "type": "quantitative", "axis": null}}},
    {"mark": {"type": "rule", "color": "#444", "strokeWidth": 1}, "encoding": {"x": {"datum": 0, "type": "quantitative", "axis": null}, "y": {"datum": -0.035, "type": "quantitative", "axis": null}, "y2": {"datum": 0.03}}},
    {"mark": {"type": "point", "shape": "M-1,-1L0,0L-1,1", "filled": false, "color": "#555", "size": 36, "strokeWidth": 1.2, "opacity": 1}, "encoding": {"x": {"datum": 1, "type": "quantitative", "axis": null}, "y": {"datum": 0, "type": "quantitative", "axis": null}}},
    {"mark": {"type": "text", "text": "e", "font": "Liberation Sans", "fontSize": 25, "align": "left", "baseline": "alphabetic", "color": "black"}, "encoding": {"x": {"datum": -0.992, "type": "quantitative", "axis": null}, "y": {"datum": 1.211, "type": "quantitative", "axis": null}}}
   ]},
  {"width": 648, "height": 54, "data": {"values": [{"caption": "g=0,0015mm\u00a0 b=0,0006mm N=10 λ=460 nm"}]},
   "mark": {"type": "text", "font": "Liberation Serif", "fontSize": 32, "align": "left", "baseline": "middle", "color": "black"},
   "encoding": {"text": {"field": "caption"},
     "x": {"datum": 0.0185, "type": "quantitative", "scale": {"domain": [0, 1], "nice": false, "zero": false}, "axis": null},
     "y": {"datum": 0.69, "type": "quantitative", "scale": {"domain": [0, 1], "nice": false, "zero": false}, "axis": null}}}
 ]},
 {"spacing": 3, "vconcat": [
  {"width": 613, "height": 363, "data": {"values": [{}]}, "mark": {"type": "point", "opacity": 0, "size": 0},
   "encoding": {"x": {"datum": 0.5, "type": "quantitative", "scale": {"domain": [0, 1]}, "axis": null}, "y": {"datum": 0.5, "type": "quantitative", "scale": {"domain": [0, 1]}, "axis": null}}},
  {"width": 613, "height": 54, "data": {"values": [{}]}, "mark": {"type": "point", "opacity": 0, "size": 0},
   "encoding": {"x": {"datum": 0.5, "type": "quantitative", "scale": {"domain": [0, 1]}, "axis": null}, "y": {"datum": 0.5, "type": "quantitative", "scale": {"domain": [0, 1]}, "axis": null}}}
 ]}
]}
]
}
